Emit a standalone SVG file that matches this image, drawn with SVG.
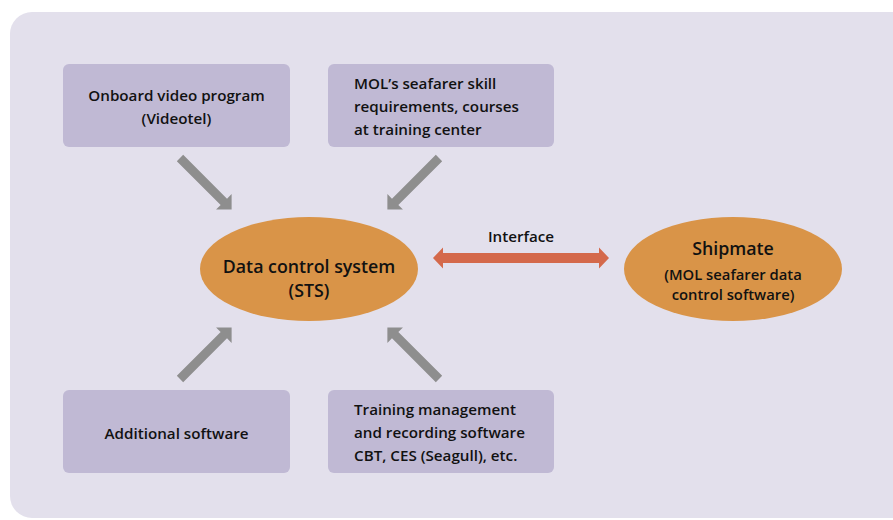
<svg xmlns="http://www.w3.org/2000/svg" width="893" height="520" viewBox="0 0 893 520">
<style>
.box{fill:#C0B9D4}
.ell{fill:#D99448}
.t{font-family:"Open Sans","Noto Sans",sans-serif;font-size:15.2px;font-weight:550;fill:#111}
.ts{font-size:14.8px}
.tb{font-family:"Open Sans","Noto Sans",sans-serif;font-size:17.8px;font-weight:550;fill:#111}
.c{text-anchor:middle}
.ga{fill:#8E8E8E}
</style>
<defs>
<polygon id="garrow" points="0,-4.5 62,-4.5 62,-11 73,0 62,11 62,4.5 0,4.5"/>
</defs>
<rect width="893" height="520" fill="#ffffff"/>
<rect x="10" y="12" width="920" height="506" rx="22" fill="#E3E0EC"/>

<g id="connectors">
<use href="#garrow" class="ga" transform="translate(180,158) rotate(45)"/>
<use href="#garrow" class="ga" transform="translate(439,158) rotate(135)"/>
<use href="#garrow" class="ga" transform="translate(180,379) rotate(-45)"/>
<use href="#garrow" class="ga" transform="translate(439,379) rotate(-135)"/>
<polygon fill="#D4694B" points="433,258 443,247.5 443,253 599,253 599,247.5 609,258 599,268.5 599,263 443,263 443,268.5"/>
<text class="t c" x="521" y="242">Interface</text>
</g>

<g id="n-video">
<rect class="box" x="63" y="64" width="227" height="83" rx="6"/>
<text class="t c" x="176.5" y="101">Onboard video program</text>
<text class="t c" x="176.5" y="124">(Videotel)</text>
</g>
<g id="n-mol">
<rect class="box" x="328" y="64" width="226" height="83" rx="6"/>
<text class="t" x="354" y="89">MOL’s seafarer skill</text>
<text class="t" x="354" y="112">requirements, courses</text>
<text class="t" x="354" y="135">at training center</text>
</g>
<g id="n-additional">
<rect class="box" x="63" y="390" width="227" height="83" rx="6"/>
<text class="t c" x="176.5" y="439">Additional software</text>
</g>
<g id="n-training">
<rect class="box" x="328" y="390" width="226" height="83" rx="6"/>
<text class="t" x="354" y="415">Training management</text>
<text class="t" x="354" y="438">and recording software</text>
<text class="t" x="354" y="461">CBT, CES (Seagull), etc.</text>
</g>
<g id="n-sts">
<ellipse class="ell" cx="309" cy="269" rx="109" ry="52"/>
<text class="tb c" x="309" y="273">Data control system</text>
<text class="tb c" x="309" y="297">(STS)</text>
</g>
<g id="n-shipmate">
<ellipse class="ell" cx="733" cy="269" rx="109" ry="52"/>
<text class="tb c" x="733" y="255">Shipmate</text>
<text class="t ts c" x="733" y="280">(MOL seafarer data</text>
<text class="t ts c" x="733" y="300">control software)</text>
</g>
</svg>
